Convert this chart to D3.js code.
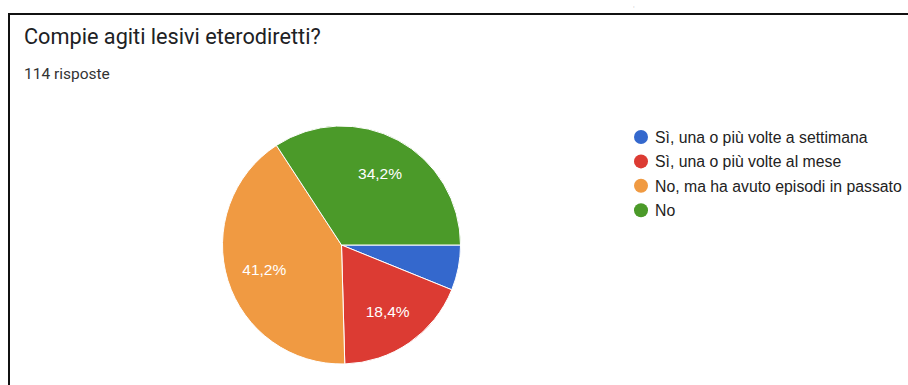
<!DOCTYPE html>
<html>
<head>
<meta charset="utf-8">
<script src="https://cdn.jsdelivr.net/npm/d3@7"></script>
<style>
  html, body { margin: 0; padding: 0; background: #fff; }
  svg { display: block; }
</style>
</head>
<body>
<svg id="chart" width="908" height="385"></svg>
<script>
// Response categories, counts and colours for the question
const categories = [
  "Sì, una o più volte a settimana",
  "Sì, una o più volte al mese",
  "No, ma ha avuto episodi in passato",
  "No"
];
const counts = [7, 21, 47, 39];
const colors = ["#3468cd", "#dc3b33", "#f09a42", "#4b9a29"];
const title = "Compie agiti lesivi eterodiretti?";
const subtitle = "114 risposte";

const svg = d3.select("#chart");
const W = 908, H = 385;

// card frame (left and top edges)
svg.append("line").attr("x1", 9).attr("y1", 13).attr("x2", 9).attr("y2", H)
  .attr("stroke", "#111").attr("stroke-width", 2);
svg.append("line").attr("x1", 8).attr("y1", 14).attr("x2", W).attr("y2", 14)
  .attr("stroke", "#111").attr("stroke-width", 2);
svg.append("text").attr("x", 633).attr("y", 7)
  .attr("font-family", "Liberation Sans, Arial, sans-serif").attr("font-size", 6)
  .attr("fill", "#999").text(",");

svg.append("text").attr("x", 24).attr("y", 44)
  .attr("font-family", "Roboto, Arial, sans-serif").attr("font-size", 21.7)
  .attr("fill", "#202124").text(title);
svg.append("text").attr("x", 24).attr("y", 79)
  .attr("font-family", "Roboto, Arial, sans-serif").attr("font-size", 15.5)
  .attr("fill", "#333").text(subtitle);

// pie, starting at 3 o'clock and running clockwise
const cx = 341.5, cy = 245, R = 119;
const total = d3.sum(counts);
const data = counts.map((v, i) => ({ name: categories[i], value: v, color: colors[i] }));
const pie = d3.pie().value(d => d.value).sort(null)
  .startAngle(Math.PI / 2).endAngle(Math.PI / 2 + 2 * Math.PI);
const arcs = pie(data);
const arc = d3.arc().innerRadius(0).outerRadius(R);
const labelArc = d3.arc().innerRadius(R * 0.68).outerRadius(R * 0.68);

const g = svg.append("g").attr("transform", `translate(${cx},${cy})`);
g.selectAll("path").data(arcs).join("path")
  .attr("d", arc)
  .attr("fill", d => d.data.color)
  .attr("stroke", "#fff").attr("stroke-width", 1);

const fmt = v => (v * 100).toFixed(1).replace(".", ",") + "%";
g.selectAll("text.lbl").data(arcs.filter(d => d.data.value / total >= 0.1)).join("text")
  .attr("class", "lbl")
  .attr("transform", d => `translate(${labelArc.centroid(d)})`)
  .attr("text-anchor", "middle").attr("dy", "0.36em")
  .attr("font-family", "Liberation Sans, Arial, sans-serif").attr("font-size", 15.5)
  .attr("fill", "#fff")
  .text(d => fmt(d.data.value / total));

// legend
const lg = svg.append("g").attr("transform", "translate(641,137)");
const items = lg.selectAll("g").data(data).join("g")
  .attr("transform", (d, i) => `translate(0,${i * 24.4})`);
items.append("circle").attr("r", 7).attr("fill", d => d.color);
items.append("text").attr("x", 14).attr("dy", "0.36em")
  .attr("font-family", "Liberation Sans, Arial, sans-serif").attr("font-size", 15.8)
  .attr("fill", "#222").text(d => d.name);
</script>
</body>
</html>
